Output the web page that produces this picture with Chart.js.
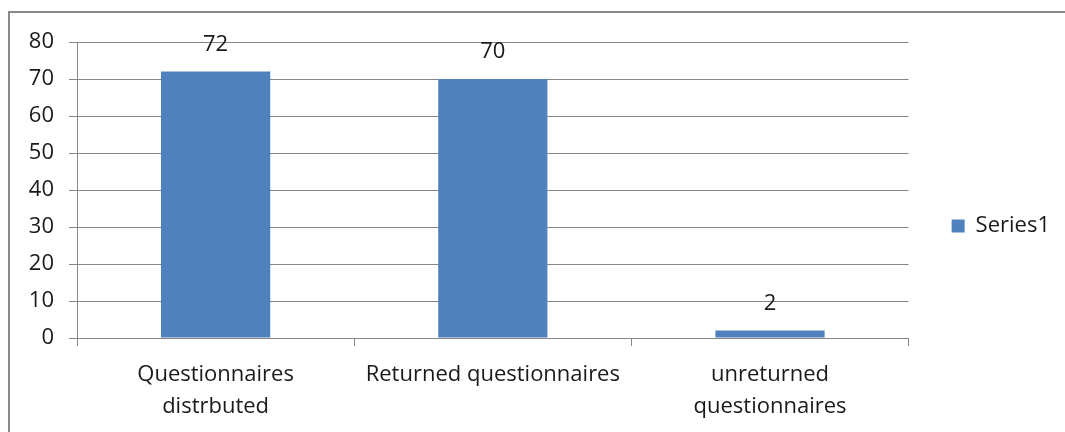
<!DOCTYPE html>
<html>
<head>
<meta charset="utf-8">
<script src="https://cdn.jsdelivr.net/npm/chart.js@4.4.1/dist/chart.umd.min.js"></script>
<style>
  html, body { margin: 0; padding: 0; background: #fff; overflow: hidden; }
  #frame { position: absolute; left: 8px; top: 11px; width: 1100px; height: 460px; border: 2px solid #8a8a8a; box-sizing: border-box; }
  #wrap { position: absolute; left: 0; top: 0; width: 1065px; height: 432px; }
</style>
</head>
<body>
<div id="frame"></div>
<div id="wrap"><canvas id="chart" width="1065" height="432"></canvas></div>
<script>
// ===== DATA =====
const categories = [['Questionnaires', 'distrbuted'], 'Returned questionnaires', ['unreturned', 'questionnaires']];
const seriesLabel = 'Series1';
const seriesValues = [72, 70, 2];
const yTicks = [0, 10, 20, 30, 40, 50, 60, 70, 80];

const FONT = '"Open Sans", "Noto Sans", sans-serif';
const TEXT = '#1a1a1a';
const GRID = '#868686';
const BAR = '#4f81bd';

// value labels above each bar
const valueLabels = {
  id: 'valueLabels',
  afterLayout(chart) {
    // legend sits a little above the vertical middle in the original
    if (chart.legend) chart.legend.bottom -= 22;
  },
  afterDatasetsDraw(chart) {
    const { ctx } = chart;
    const meta = chart.getDatasetMeta(0);
    ctx.save();
    ctx.font = '22px ' + FONT;
    ctx.fillStyle = TEXT;
    ctx.textAlign = 'center';
    ctx.textBaseline = 'middle';
    meta.data.forEach((bar, i) => {
      ctx.fillText(String(seriesValues[i]), bar.x, bar.y - 27);
    });
    ctx.restore();
  }
};

new Chart(document.getElementById('chart'), {
  type: 'bar',
  data: {
    labels: categories,
    datasets: [{
      label: seriesLabel,
      data: seriesValues,
      backgroundColor: BAR,
      borderWidth: 0,
      categoryPercentage: 1,
      barPercentage: 0.394
    }]
  },
  options: {
    responsive: false,
    animation: false,
    layout: { padding: { left: 0, top: 42, right: 5, bottom: 0 } },
    plugins: {
      legend: {
        position: 'right',
        labels: { color: TEXT, font: { family: FONT, size: 22 }, boxWidth: 13, boxHeight: 13, padding: 43 }
      },
      tooltip: { enabled: false }
    },
    scales: {
      x: {
        grid: { display: true, drawOnChartArea: false, drawTicks: true, tickLength: 8, color: GRID, offset: true },
        border: { display: true, color: GRID, width: 1 },
        ticks: { color: TEXT, font: { family: FONT, size: 22, lineHeight: 1.45 }, padding: 13, maxRotation: 0, autoSkip: false },
        afterFit: s => { s.height = 94; }
      },
      y: {
        min: 0, max: 80,
        afterBuildTicks: s => { s.ticks = yTicks.map(v => ({ value: v })); },
        grid: { color: GRID, tickLength: 8 },
        border: { display: true, color: GRID, width: 1 },
        ticks: { color: TEXT, font: { family: FONT, size: 22 }, padding: 15 },
        afterFit: s => { s.width = 77; }
      }
    }
  },
  plugins: [valueLabels]
});
</script>
</body>
</html>
